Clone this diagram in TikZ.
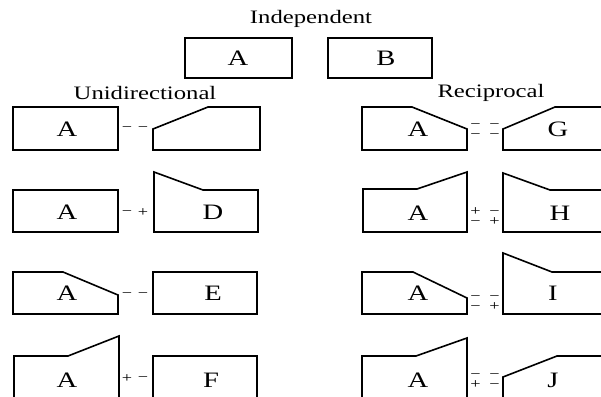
\documentclass[tikz,border=0pt]{standalone}
\usepackage{fontspec}
\setmainfont[FakeStretch=1.3]{Liberation Serif}
\begin{document}
\begin{tikzpicture}[x=1pt, y=-1pt,
		part/.style={draw, line width=1.6pt, line join=miter},
		title/.style={font=\fontsize{19}{22}\selectfont, inner sep=0pt},
		tag/.style={font=\fontsize{22}{24}\selectfont, inner sep=0pt},
		sign/.style={font=\fontsize{14}{10}\selectfont, inner sep=0pt, align=center}]
		\useasboundingbox (0,0) rectangle (601,396);
		\clip (0,0) rectangle (601,396);
		% Headings
		\node[title] (indep) at (311,19) {Independent};
		\node[title] (uni) at (145,93) {Unidirectional};
		\node[title] (recip) at (491,93) {Reciprocal};
		% Independent pair
		\draw[part] (185,38) rectangle (292,78);
		\draw[part] (328,38) rectangle (432,78);
		\node[tag] (iA) at (238,58) {A};
		\node[tag] (iB) at (386,58) {B};
		% Unidirectional column
		\draw[part] (13,107) rectangle (118,150);	% A
		\draw[part] (153,150) -- (153,129) -- (208,107) -- (260,107) -- (260,150) -- cycle;
		\node[tag] (uA1) at (67,129) {A};
		\draw[part] (13,190) rectangle (118,232);	% A
		\draw[part] (154,232) -- (154,172) -- (203,190) -- (258,190) -- (258,232) -- cycle;	% D
		\node[tag] (uA2) at (67,212) {A};
		\node[tag] (uD) at (213,212) {D};
		\draw[part] (13,314) -- (13,272) -- (63,272) -- (118,295) -- (118,314) -- cycle;	% A
		\draw[part] (153,272) rectangle (257,314);	% E
		\node[tag] (uA3) at (67,293) {A};
		\node[tag] (uE) at (213,293) {E};
		\draw[part] (14,400) -- (14,356) -- (68,356) -- (119,336) -- (119,400);	% A
		\draw[part] (153,400) -- (153,356) -- (257,356) -- (257,400);	% F
		\node[tag] (uA4) at (67,380) {A};
		\node[tag] (uF) at (211,380) {F};
		\foreach \y/\p/\q in {129/−/−, 213/−/+, 295/−/−, 379/+/−} {
			\node[sign] (ul\y) at (127,\y) {\p};
			\node[sign] (ur\y) at (143,\y) {\q};
		}
		% Reciprocal column
		\draw[part] (362,150) -- (362,107) -- (412,107) -- (467,129) -- (467,150) -- cycle;	% A
		\draw[part] (503,150) -- (503,129) -- (555,107) -- (612,107) -- (612,150) -- cycle;	% G
		\node[tag] (rA1) at (418,129) {A};
		\node[tag] (rG) at (558,129) {G};
		\draw[part] (363,232) -- (363,189) -- (417,189) -- (467,172) -- (467,232) -- cycle;	% A
		\draw[part] (503,232) -- (503,173) -- (550,190) -- (612,190) -- (612,232) -- cycle;	% H
		\node[tag] (rA2) at (418,213) {A};
		\node[tag] (rH) at (560,213) {H};
		\draw[part] (362,314) -- (362,272) -- (413,272) -- (467,298) -- (467,314) -- cycle;	% A
		\draw[part] (503,314) -- (503,253) -- (552,272) -- (612,272) -- (612,314) -- cycle;	% I
		\node[tag] (rA3) at (418,293) {A};
		\node[tag] (rI) at (553,293) {I};
		\draw[part] (362,400) -- (362,356) -- (416,356) -- (467,338) -- (467,400);	% A
		\draw[part] (503,400) -- (503,377) -- (557,356) -- (612,356);	% J
		\node[tag] (rA4) at (418,380) {A};
		\node[tag] (rJ) at (553,380) {J};
		\foreach \y/\a/\b/\c/\d in {131/−/−/−/−, 217/+/−/−/+, 303/−/−/−/+, 381/−/−/+/−} {
			\node[sign] (rs\y) at (485,\y) {\a\hspace{8.7pt}\b\\\c\hspace{8.7pt}\d};
		}
	\end{tikzpicture}
\end{document}
